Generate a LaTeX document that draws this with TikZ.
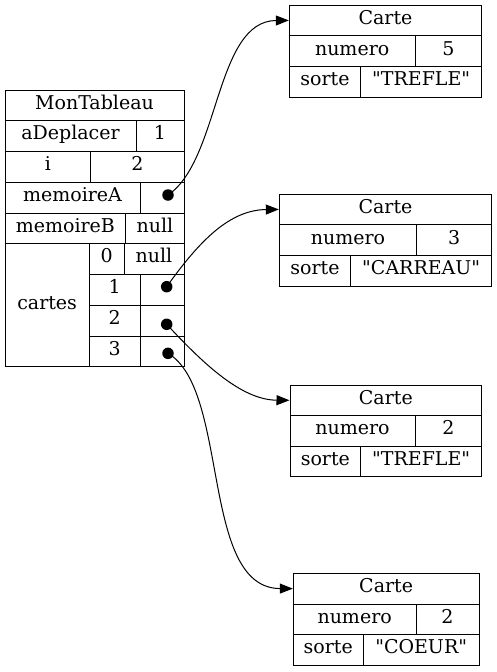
\documentclass[tikz,border=0pt]{standalone}
\usepackage{fontspec}
\setmainfont[Ligatures=TeXOff]{DejaVu Serif}
\usetikzlibrary{arrows.meta}

\begin{document}
\begin{tikzpicture}[x=1pt,y=-1pt,
  cell/.style={draw,line width=1pt,inner sep=0pt,minimum height=30.75pt,text height=0.76em,text depth=0pt,font=\fontsize{19}{22}\selectfont},
  ptr/.style={circle,fill,inner sep=0pt,minimum size=11.5pt},
  link/.style={-{Triangle[length=13pt,width=10pt]},line width=1pt}]
\useasboundingbox (0,0) rectangle (497,672);
\node[cell,minimum width=179pt] (tab) at (94.5,105.375) {MonTableau};
\node[cell,minimum width=131pt] (aDep) at (70.5,136.125) {aDeplacer};
\node[cell,minimum width=48pt] (aDepV) at (160,136.125) {1};
\node[cell,minimum width=85.7pt] (i) at (47.85,166.875) {i};
\node[cell,minimum width=93.3pt] (iV) at (137.35,166.875) {2};
\node[cell,minimum width=135pt] (memA) at (72.5,197.625) {memoireA};
\node[cell,minimum width=44pt] (memAV) at (162,197.625) {};
\node[cell,minimum width=120.7pt] (memB) at (65.35,228.375) {memoireB};
\node[cell,minimum width=58.3pt] (memBV) at (154.85,228.375) {null};
\node[cell,minimum width=84.3pt,minimum height=123pt] (cartes) at (47.15,305.25) {cartes};
\node[cell,minimum width=34.7pt] (k0) at (106.65,259.125) {0};
\node[cell,minimum width=60pt] (k0V) at (154,259.125) {null};
\node[cell,minimum width=50.7pt] (k1) at (114.65,289.875) {1};
\node[cell,minimum width=44pt] (k1V) at (162,289.875) {};
\node[cell,minimum width=50.7pt] (k2) at (114.65,320.625) {2};
\node[cell,minimum width=44pt] (k2V) at (162,320.625) {};
\node[cell,minimum width=50.7pt] (k3) at (114.65,351.375) {3};
\node[cell,minimum width=44pt] (k3V) at (162,351.375) {};
\node[ptr] (dotA) at (168,195) {};
\node[ptr] (dot1) at (166.7,286.7) {};
\node[ptr] (dot2) at (166.7,324.3) {};
\node[ptr] (dot3) at (168,353.3) {};

\node[cell,minimum width=192.4pt,minimum height=30.8pt] (c1) at (385.5,20.4) {Carte};
\node[cell,minimum width=125.7pt,minimum height=30.8pt] (c1num) at (352.15,51.2) {numero};
\node[cell,minimum width=66.7pt,minimum height=30.8pt] (c1numV) at (448.35,51.2) {5};
\node[cell,minimum width=71.4pt,minimum height=30.8pt] (c1sorte) at (325,82) {sorte};
\node[cell,minimum width=121pt,minimum height=30.8pt] (c1sorteV) at (421.2,82) {"TREFLE"};

\node[cell,minimum width=212.4pt,minimum height=30.8pt] (c2) at (385.5,209.4) {Carte};
\node[cell,minimum width=137.4pt,minimum height=30.8pt] (c2num) at (348,240.2) {numero};
\node[cell,minimum width=75pt,minimum height=30.8pt] (c2numV) at (454.2,240.2) {3};
\node[cell,minimum width=71.4pt,minimum height=30.8pt] (c2sorte) at (315,271) {sorte};
\node[cell,minimum width=141pt,minimum height=30.8pt] (c2sorteV) at (421.2,271) {"CARREAU"};

\node[cell,minimum width=191.7pt,minimum height=30.5pt] (c3) at (385.85,400.25) {Carte};
\node[cell,minimum width=125pt,minimum height=30.5pt] (c3num) at (352.5,430.75) {numero};
\node[cell,minimum width=66.7pt,minimum height=30.5pt] (c3numV) at (448.35,430.75) {2};
\node[cell,minimum width=70.7pt,minimum height=30.5pt] (c3sorte) at (325.35,461.25) {sorte};
\node[cell,minimum width=121pt,minimum height=30.5pt] (c3sorteV) at (421.2,461.25) {"TREFLE"};

\node[cell,minimum width=185.7pt,minimum height=30.7pt] (c4) at (386.15,588.65) {Carte};
\node[cell,minimum width=122.7pt,minimum height=30.7pt] (c4num) at (354.65,619.35) {numero};
\node[cell,minimum width=63pt,minimum height=30.7pt] (c4numV) at (447.5,619.35) {2};
\node[cell,minimum width=70pt,minimum height=30.7pt] (c4sorte) at (328.3,650.05) {sorte};
\node[cell,minimum width=115.7pt,minimum height=30.7pt] (c4sorteV) at (421.15,650.05) {"COEUR"};

\draw[link] (dotA.center) .. controls (220,160) and (215,21) .. (c1.west);
\draw[link] (dot1.center) .. controls (200,240) and (230,210) .. (c2.west);
\draw[link] (dot2.center) .. controls (200,360) and (240,400) .. (c3.west);
\draw[link] (dot3.center) .. controls (230,390) and (200,588) .. (c4.west);
\end{tikzpicture}
\end{document}
